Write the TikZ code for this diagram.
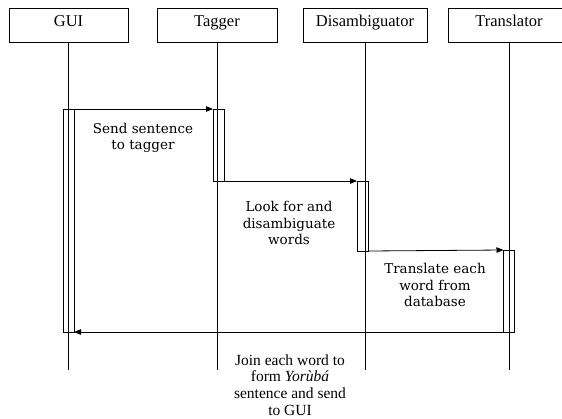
\documentclass[tikz,border=0pt]{standalone}
\usepackage{fontspec}
\setmainfont{Liberation Serif}
\newfontfamily\msgfont{DejaVu Serif}
\usetikzlibrary{arrows.meta}

\tikzset{
  lifebox/.style={draw, line width=0.8pt, minimum width=120pt, minimum height=34pt,
    inner sep=0pt, outer sep=0pt, text height=10pt, text depth=6.6pt,
    font=\fontsize{16.5}{18}\selectfont},
  actbar/.style={draw, line width=0.8pt, minimum width=11pt, inner sep=0pt, outer sep=0pt},
  msg/.style={draw, line width=0.8pt, -{Triangle[length=7pt,width=5.5pt]}},
  note/.style={align=center, inner sep=0pt, font=\msgfont\fontsize{13.5}{16.7}\selectfont}
}

\begin{document}
\begin{tikzpicture}[x=1pt, y=-1pt, line width=0.8pt]
        \useasboundingbox (0,0) rectangle (562,418);
        \clip (0,0) rectangle (562,418);

        % Objects
        \node[lifebox, minimum width=119pt] (gui) at (68.5, 25) {GUI};
        \node[lifebox] (tag) at (217, 25) {Tagger};
        \node[lifebox, minimum width=124pt] (dis) at (365, 25) {Disambiguator};
        \node[lifebox, minimum width=122pt] (trn) at (509, 25) {Translator};

        % Lifelines
        \coordinate (guiend) at (68.5, 370);
        \coordinate (tagend) at (217, 370);
        \coordinate (disend) at (365, 370);
        \coordinate (trnend) at (509, 370);
        \draw (gui.south) -- (guiend);
        \draw (tag.south) -- (tagend);
        \draw (dis.south) -- (disend);
        \draw (trn.south) -- (trnend);

        % Activation bars
        \node[actbar, minimum height=223pt] (guibar) at (68.5, 220.5) {};
        \node[actbar, minimum height=72pt] (tagbar) at (218.5, 145) {};
        \node[actbar, minimum height=70pt] (disbar) at (362.5, 216) {};
        \node[actbar, minimum height=82pt] (trnbar) at (509, 291) {};

        % Messages
        \draw[msg] (guibar.north east) -- (tagbar.north west);
        \draw[msg] (tagbar.south east) -- (disbar.north west);
        \draw[msg] (disbar.south east) -- (trnbar.north west);
        \draw[msg] (trnbar.south west) -- (guibar.south east);

        % Labels
        \node[note] (send) at (143, 138) {Send sentence\\to tagger};
        \node[note] (look) at (289, 223) {Look for and\\disambiguate\\words};
        \node[note] (trans) at (435, 285) {Translate each\\word from\\database};
        \node[note, font=\fontsize{15.5}{16.7}\selectfont] (join) at (290, 385)
            {Join each word to\\form \textit{Yorùbá}\\sentence and send\\to GUI};
    \end{tikzpicture}
\end{document}
